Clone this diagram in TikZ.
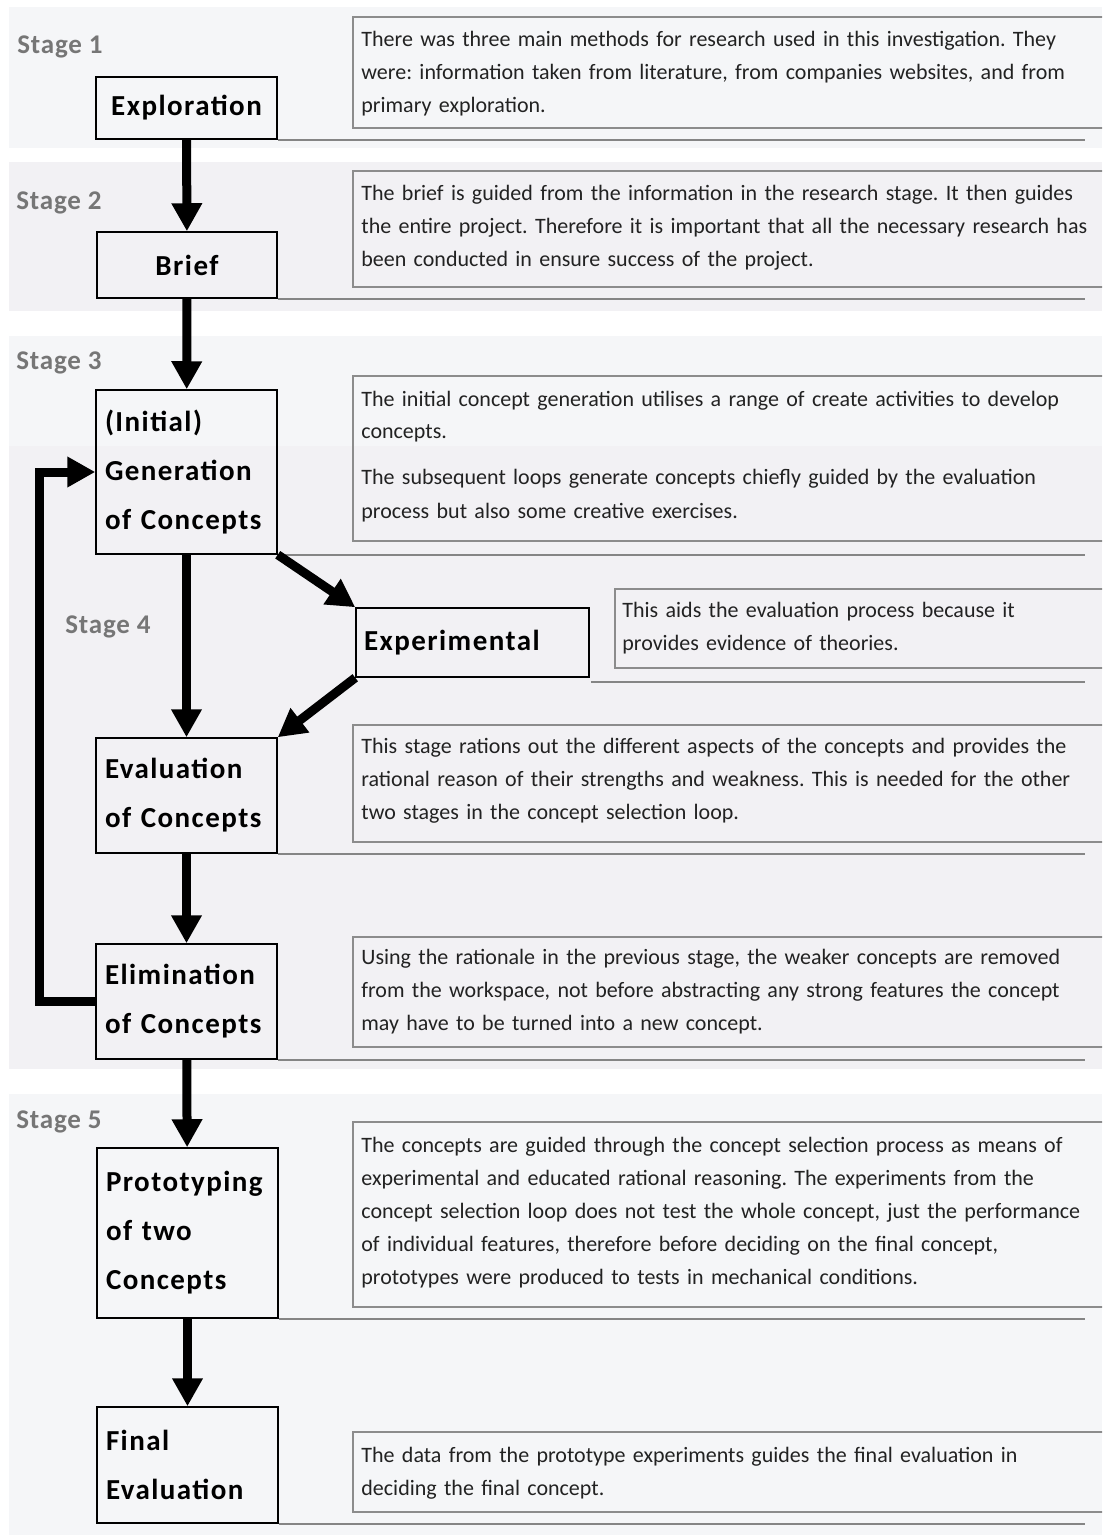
\documentclass[tikz,border=0pt]{standalone}
\usepackage{fontspec}
\setmainfont{Carlito}
\newfontfamily\lblfont[LetterSpace=5]{Carlito}
\newfontfamily\stgfont[LetterSpace=3]{Carlito}
\usetikzlibrary{arrows.meta,calc}
\definecolor{bandA}{HTML}{F5F6F8}
\definecolor{bandB}{HTML}{F2F1F4}
\definecolor{boxgray}{HTML}{8C8C8C}
\definecolor{linegray}{HTML}{858585}
\definecolor{stagegray}{HTML}{767676}
\definecolor{txt}{HTML}{222222}
\frenchspacing
\begin{document}
\frenchspacing
\begin{tikzpicture}[x=0.5pt,y=-0.5pt,
  lbl/.style={draw=black, line width=0.75pt, inner sep=0pt, text width=81.5pt, align=left,
    minimum width=90.5pt, font=\lblfont\bfseries\fontsize{14.5}{24.5}\selectfont},
  descbox/.style={draw=boxgray, line width=1pt, inner sep=0pt, anchor=north west, minimum width=379pt},
  dtext/.style={anchor=base west, inner sep=0pt, text width=395pt, align=left,
    font=\fontsize{11}{16.5}\selectfont\frenchspacing, text=txt},
  stagelbl/.style={anchor=base west, inner sep=0pt, text=stagegray,
    font=\stgfont\bfseries\fontsize{13.5}{15}\selectfont},
  arr/.style={line width=4.5pt, -{Triangle[width=14.5pt,length=14pt]}},
  uline/.style={draw=linegray, line width=1pt}]
\useasboundingbox (0,0) rectangle (1102,1535);
\clip (0,0) rectangle (1102,1535);
\fill[white] (0,0) rectangle (1102,1535);
% bands
\fill[bandA] (9,7) rectangle (1102,148);
\fill[bandB] (9,162) rectangle (1102,311);
\fill[bandA] (9,336) rectangle (1102,446);
\fill[bandB] (9,446) rectangle (1102,1069);
\fill[bandA] (9,1094) rectangle (1102,1535);
% stage labels
\node[stagelbl] (s1) at (17,54) {Stage 1};
\node[stagelbl] (s2) at (16,210) {Stage 2};
\node[stagelbl] (s3) at (16,370) {Stage 3};
\node[stagelbl] (s4) at (65,633) {Stage 4};
\node[stagelbl] (s5) at (16,1128) {Stage 5};
% process nodes
\node[lbl, align=center, minimum height=31pt] (expl) at (186.5,108) {Exploration};
\node[lbl, align=center, minimum width=90pt, minimum height=33pt] (brief) at (187,265) {Brief};
\node[lbl, minimum height=82pt] (gen) at (186.5,472) {(Initial)\\Generation\\of Concepts};
\node[lbl, minimum width=116.5pt, text width=108.5pt, minimum height=34.5pt] (exp) at (472.5,642.5) {Experimental};
\node[lbl, minimum height=57.5pt] (eval) at (186.5,795.5) {Evaluation\\of Concepts};
\node[lbl, minimum height=57.5pt] (elim) at (186.5,1001.5) {Elimination\\of Concepts};
\node[lbl, minimum height=85pt] (proto) at (187.5,1233) {Prototyping\\of two\\Concepts};
\node[lbl, minimum height=58pt] (final) at (187.5,1465) {Final\\Evaluation};
% underlines
\coordinate (rr) at (1085,0);
\coordinate (expu) at ($(exp.south east)+(1,4)$);
\foreach \n in {expl,brief,gen,eval,elim,proto,final}{
  \draw[uline] (\n.south east) -- (\n.south east -| rr);
}
\draw[uline] (expu) -- (expu -| rr);
% description boxes
\node[descbox, minimum height=55.5pt] (d1) at (352,16) {};
\node[descbox, minimum height=58pt] (d2) at (352,170) {};
\node[descbox, minimum height=82.5pt] (d3) at (352,375) {};
\node[descbox, minimum width=248pt, minimum height=39.5pt] (d4) at (614,588) {};
\node[descbox, minimum height=58.5pt] (d5) at (352,724) {};
\node[descbox, minimum height=55pt] (d6) at (352,936) {};
\node[descbox, minimum height=92.5pt] (d7) at (352,1121) {};
\node[descbox, minimum height=40pt] (d8) at (352,1431) {};
% description texts
\node[dtext] (t1) at ($(d1.north west)+(9,31)$) {There was three main methods for research used in this investigation. They\\were: information taken from literature, from companies websites, and from\\primary exploration.};
\node[dtext] (t2) at ($(d2.north west)+(9,31)$) {The brief is guided from the information in the research stage. It then guides\\the entire project. Therefore it is important that all the necessary research has\\been conducted in ensure success of the project.};
\node[dtext] (t3) at ($(d3.north west)+(9,31)$) {The initial concept generation utilises a range of create activities to develop\\concepts.\\[6.5pt]The subsequent loops generate concepts chiefly guided by the evaluation\\process but also some creative exercises.};
\node[dtext] (t4) at ($(d4.north west)+(8,29)$) {This aids the evaluation process because it\\provides evidence of theories.};
\node[dtext] (t5) at ($(d5.north west)+(9,29)$) {This stage rations out the different aspects of the concepts and provides the\\rational reason of their strengths and weakness. This is needed for the other\\two stages in the concept selection loop.};
\node[dtext] (t6) at ($(d6.north west)+(9,28)$) {Using the rationale in the previous stage, the weaker concepts are removed\\from the workspace, not before abstracting any strong features the concept\\may have to be turned into a new concept.};
\node[dtext] (t7) at ($(d7.north west)+(9,31)$) {The concepts are guided through the concept selection process as means of\\experimental and educated rational reasoning. The experiments from the\\concept selection loop does not test the whole concept, just the performance\\of individual features, therefore before deciding on the final concept,\\prototypes were produced to tests in mechanical conditions.};
\node[dtext] (t8) at ($(d8.north west)+(9,31)$) {The data from the prototype experiments guides the final evaluation in\\deciding the final concept.};
% arrows
\draw[arr] (expl) -- (brief);
\draw[arr] (brief) -- (gen);
\draw[arr] (gen) -- (eval);
\draw[arr] (gen.south east) -- (exp.north west);
\draw[arr] (exp.south west) -- (eval.north east);
\draw[arr] (eval) -- (elim);
\draw[arr] (elim) -- (proto);
\draw[arr] (proto) -- (final);
\draw[arr] (elim.west) -- ++(-56,0) |- (gen.west);
\end{tikzpicture}
\end{document}
